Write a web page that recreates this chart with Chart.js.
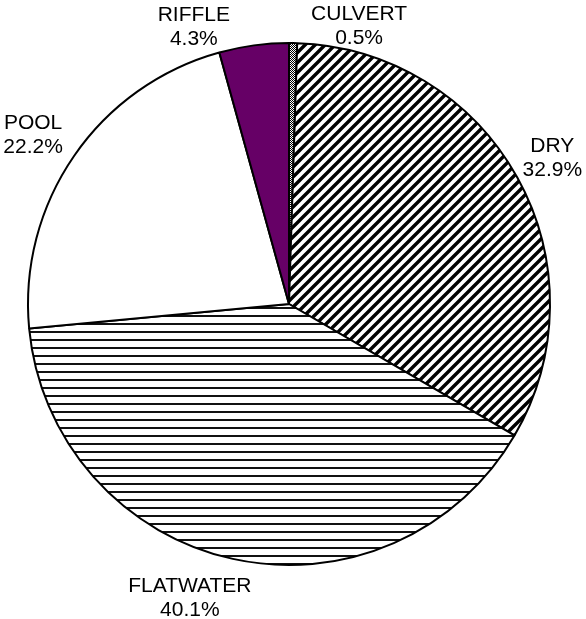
<!DOCTYPE html>
<html>
<head>
<meta charset="utf-8">
<script src="https://cdn.jsdelivr.net/npm/chart.js@4"></script>
<style>
  html, body { margin: 0; padding: 0; background: #fff; }
  #wrap { width: 586px; height: 619px; }
</style>
</head>
<body>
<div id="wrap"><canvas id="pieChart" width="586" height="619"></canvas></div>
<script>
const categories = ["CULVERT", "DRY", "FLATWATER", "POOL", "RIFFLE"];
const shares = [0.5, 32.9, 40.1, 22.2, 4.3];

// where each label box sits, relative to the point where the slice's middle meets the rim
const labelNudge = [[66, -17], [35, -19], [-43, 39], [-41, -21], [-60, -18]];

function makePattern(size, draw) {
  const c = document.createElement("canvas");
  c.width = size;
  c.height = size;
  const g = c.getContext("2d");
  g.fillStyle = "#fff";
  g.fillRect(0, 0, size, size);
  draw(g, size);
  return c.getContext("2d").createPattern(c, "repeat");
}

const checker = makePattern(2, (g) => {
  g.fillStyle = "#000";
  g.fillRect(0, 0, 1, 1);
  g.fillRect(1, 1, 1, 1);
});

const diagonal = makePattern(10, (g, s) => {
  g.strokeStyle = "#000";
  g.lineWidth = 3.4;
  g.beginPath();
  g.moveTo(-1, s + 1); g.lineTo(s + 1, -1);
  g.moveTo(-s / 2, s / 2); g.lineTo(s / 2, -s / 2);
  g.moveTo(s / 2, s + s / 2); g.lineTo(s + s / 2, s / 2);
  g.stroke();
});

const horizontal = makePattern(8, (g, s) => {
  g.fillStyle = "#111";
  g.fillRect(0, 3, s, 2);
});

const fills = [checker, diagonal, horizontal, "#ffffff", "#660066"];

const sliceLabels = {
  id: "sliceLabels",
  afterDraw(chart) {
    const ctx = chart.ctx;
    const arcs = chart.getDatasetMeta(0).data;
    const total = shares.reduce((a, b) => a + b, 0);
    ctx.save();
    ctx.fillStyle = "#000";
    ctx.font = "21px 'Liberation Sans', Arial, sans-serif";
    ctx.textAlign = "center";
    ctx.textBaseline = "middle";
    arcs.forEach((arc, i) => {
      const p = arc.getProps(["x", "y", "startAngle", "endAngle", "outerRadius"], true);
      const mid = (p.startAngle + p.endAngle) / 2;
      const ax = p.x + Math.cos(mid) * p.outerRadius + labelNudge[i][0];
      const ay = p.y + Math.sin(mid) * p.outerRadius + labelNudge[i][1];
      ctx.fillText(categories[i], ax, ay - 12);
      ctx.fillText((shares[i] / total * 100).toFixed(1) + "%", ax, ay + 12);
    });
    ctx.restore();
  }
};

new Chart(document.getElementById("pieChart"), {
  type: "pie",
  data: {
    labels: categories,
    datasets: [{
      data: shares,
      backgroundColor: fills,
      borderColor: "#000",
      borderWidth: 2
    }]
  },
  options: {
    responsive: false,
    animation: false,
    layout: { padding: { left: 27, right: 35, top: 42, bottom: 53 } },
    plugins: {
      legend: { display: false },
      tooltip: { enabled: false }
    }
  },
  plugins: [sliceLabels]
});
</script>
</body>
</html>
